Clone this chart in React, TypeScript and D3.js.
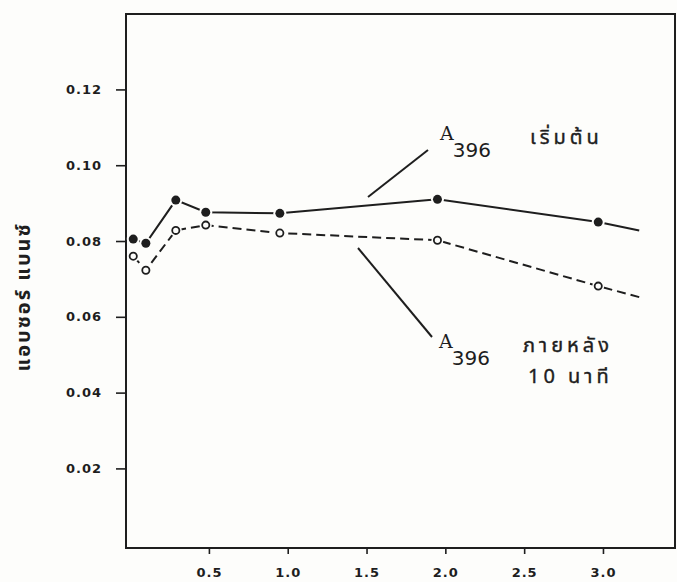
import React, { useLayoutEffect, useRef } from "react";
import * as d3 from "d3";

// time (x axis)
const times = [0.02, 0.1, 0.29, 0.48, 0.95, 1.95, 2.97];
// A396 at start (filled circles)
const startValues = [0.0805, 0.0794, 0.0908, 0.0876, 0.0873, 0.091, 0.085];
// A396 after 10 minutes (open circles)
const afterValues = [0.076, 0.0723, 0.0828, 0.0842, 0.0821, 0.0802, 0.0681];
// where each line runs on past the last point
const tailTime = 3.23;
const startTail = 0.0828;
const afterTail = 0.0652;

const xTicks = [0.5, 1.0, 1.5, 2.0, 2.5, 3.0];
const yTicks = [0.02, 0.04, 0.06, 0.08, 0.1, 0.12];

const yTitle = "แอบซอร์ แบนซ์";
const startLabel = "เริ่มต้น";
const afterLabel1 = "ภายหลัง";
const afterLabel2 = "10 นาที";

const width = 677;
const height = 582;
const ink = "#1e1e1e";
const paper = "#fdfdfb";
const thaiFont = "'Noto Sans Thai', 'Loma', 'Garuda', 'Tlwg Typo', 'DejaVu Sans', sans-serif";

export default function App() {
  const ref = useRef<SVGSVGElement>(null);

  useLayoutEffect(() => {
    const svg = d3.select(ref.current);
    svg.selectAll("*").remove();

    const left = 126;
    const right = 675;
    const top = 14;
    const bottom = 548;

    const x = d3.scaleLinear().domain([-0.026, 3.457]).range([left, right]);
    const y = d3.scaleLinear().domain([-0.001, 0.1399]).range([bottom, top]);

    svg.append("rect").attr("width", width).attr("height", height).attr("fill", paper);

    // frame
    svg
      .append("rect")
      .attr("x", left)
      .attr("y", top)
      .attr("width", right - left)
      .attr("height", bottom - top)
      .attr("fill", "none")
      .attr("stroke", ink)
      .attr("stroke-width", 2);

    // axes
    const xAxis = d3
      .axisBottom(x)
      .tickValues(xTicks)
      .tickFormat(d3.format(".1f"))
      .tickSize(6)
      .tickPadding(14);
    const gx = svg.append("g").attr("transform", `translate(0,${bottom})`).call(xAxis);
    gx.select(".domain").remove();

    const yAxis = d3
      .axisLeft(y)
      .tickValues(yTicks)
      .tickFormat(d3.format(".2f"))
      .tickSize(10)
      .tickPadding(14);
    const gy = svg.append("g").attr("transform", `translate(${left},0)`).call(yAxis);
    gy.select(".domain").remove();

    svg
      .selectAll(".tick line")
      .attr("stroke", ink)
      .attr("stroke-width", 1.6);
    svg
      .selectAll(".tick text")
      .attr("fill", ink)
      .attr("font-family", "'DejaVu Sans', sans-serif")
      .attr("font-weight", "bold")
      .attr("font-size", 13)
      .attr("letter-spacing", 1);

    // y title
    svg
      .append("text")
      .attr("transform", `translate(30,297) rotate(-90)`)
      .attr("text-anchor", "middle")
      .attr("font-family", thaiFont)
      .attr("font-weight", "bold")
      .attr("font-size", 20)
      .attr("letter-spacing", 2)
      .attr("fill", ink)
      .text(yTitle);

    const startPts: [number, number][] = times.map((t, i) => [t, startValues[i]]);
    const afterPts: [number, number][] = times.map((t, i) => [t, afterValues[i]]);
    startPts.push([tailTime, startTail]);
    afterPts.push([tailTime, afterTail]);

    const line = d3
      .line<[number, number]>()
      .x((d) => x(d[0]))
      .y((d) => y(d[1]));

    svg
      .append("path")
      .attr("d", line(startPts))
      .attr("fill", "none")
      .attr("stroke", ink)
      .attr("stroke-width", 2);

    svg
      .append("path")
      .attr("d", line(afterPts))
      .attr("fill", "none")
      .attr("stroke", ink)
      .attr("stroke-width", 2)
      .attr("stroke-dasharray", "9,5");

    // white gaps round markers, as drawn by hand
    const gaps = svg.append("g").attr("fill", paper);
    times.forEach((t, i) => {
      gaps.append("circle").attr("cx", x(t)).attr("cy", y(startValues[i])).attr("r", 6.5);
      gaps.append("circle").attr("cx", x(t)).attr("cy", y(afterValues[i])).attr("r", 6);
    });

    svg
      .append("g")
      .selectAll("circle")
      .data(times)
      .join("circle")
      .attr("cx", (d) => x(d))
      .attr("cy", (d, i) => y(startValues[i]))
      .attr("r", 4.5)
      .attr("fill", ink);

    svg
      .append("g")
      .selectAll("circle")
      .data(times)
      .join("circle")
      .attr("cx", (d) => x(d))
      .attr("cy", (d, i) => y(afterValues[i]))
      .attr("r", 3.6)
      .attr("fill", paper)
      .attr("stroke", ink)
      .attr("stroke-width", 1.8);

    // annotations
    const note = svg.append("g").attr("fill", ink);
    note
      .append("line")
      .attr("x1", 428)
      .attr("y1", 150)
      .attr("x2", 368)
      .attr("y2", 197)
      .attr("stroke", ink)
      .attr("stroke-width", 2);
    note
      .append("line")
      .attr("x1", 358)
      .attr("y1", 248)
      .attr("x2", 432)
      .attr("y2", 337)
      .attr("stroke", ink)
      .attr("stroke-width", 2);

    const label = (lx: number, ly: number) => {
      const t = note.append("text").attr("x", lx).attr("y", ly);
      t.append("tspan")
        .attr("font-family", "'DejaVu Serif', serif")
        .attr("font-size", 19)
        .text("A");
      t.append("tspan")
        .attr("font-family", "'DejaVu Sans', sans-serif")
        .attr("font-size", 20)
        .attr("dx", -1)
        .attr("dy", 17)
        .text("396");
    };
    label(440, 140);
    label(439, 348);

    const thai = (tx: number, ty: number, s: string) =>
      note
        .append("text")
        .attr("x", tx)
        .attr("y", ty)
        .attr("font-family", thaiFont)
        .attr("font-size", 20)
        .attr("letter-spacing", 4)
        .attr("stroke", ink)
        .attr("stroke-width", 0.4)
        .text(s);
    thai(530, 144, startLabel);
    thai(523, 352, afterLabel1);
    thai(528, 383, afterLabel2);
  }, []);

  return (
    <div style={{ position: "fixed", left: 0, top: 0 }}>
      <svg ref={ref} width={width} height={height}></svg>
    </div>
  );
}
